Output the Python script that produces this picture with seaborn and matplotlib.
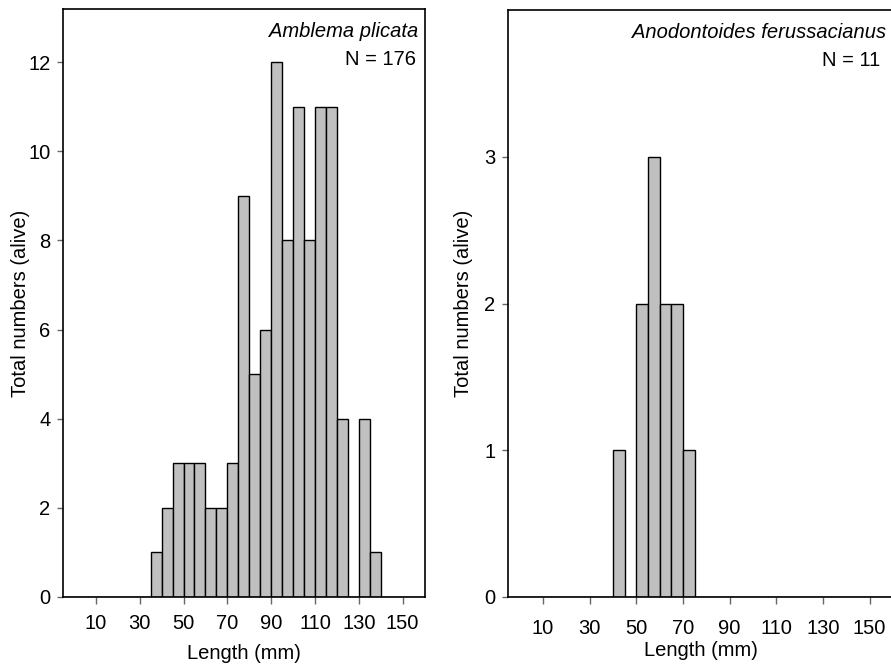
import pandas as pd
import matplotlib
matplotlib.use("Agg")
import matplotlib.pyplot as plt
import seaborn as sns

# Shell-length frequencies (5 mm classes, labelled by lower class bound)
amblema_length = [35, 40, 45, 50, 55, 60, 65, 70, 75, 80, 85, 90, 95, 100,
                  105, 110, 115, 120, 125, 130, 135]
amblema_count = [1, 2, 3, 3, 3, 2, 2, 3, 9, 5, 6, 12, 8, 11,
                 8, 11, 11, 4, 0, 4, 1]

anodontoides_length = [40, 45, 50, 55, 60, 65, 70]
anodontoides_count = [1, 0, 2, 3, 2, 2, 1]

x_ticks = [10, 30, 50, 70, 90, 110, 130, 150]
species = ["Amblema plicata", "Anodontoides ferussacianus"]
n_labels = ["N = 176", "N = 11"]

sns.set_theme(style="white")
plt.rcParams["font.family"] = ["Liberation Sans", "DejaVu Sans"]
plt.rcParams["text.color"] = "black"
plt.rcParams["axes.labelcolor"] = "black"
FS = 14.5

W, H = 891, 667
fig = plt.figure(figsize=(W / 100, H / 100), dpi=100)


def panel(rect, lengths, counts, ylim, yticks, name, ntext, name_x, n_x, ylab_x,
          xpad, xlabpad):
    ax = fig.add_axes(rect)
    df = pd.DataFrame({"length": [v + 2.5 for v in lengths], "count": counts})
    sns.histplot(data=df, x="length", weights="count", binwidth=5, binrange=(-5, 160),
                 ax=ax, color="#c0c0c0", edgecolor="black", linewidth=1.0, alpha=1.0)
    for p in ax.patches:
        p.set_facecolor("#c0c0c0")
    ax.set_xlim(-5, 160)
    ax.set_ylim(*ylim)
    ax.set_xticks(x_ticks)
    ax.set_yticks(yticks)
    ax.tick_params(axis="both", labelsize=FS, colors="#666666", width=1.0,
                   direction="out", labelcolor="black", bottom=True, left=True)
    ax.tick_params(axis="x", length=5, pad=xpad)
    ax.tick_params(axis="y", length=4, pad=5)
    for s in ["left", "top", "bottom", "right"]:
        ax.spines[s].set_color("black")
        ax.spines[s].set_linewidth(1.2)
    ax.set_xlabel("Length (mm)", fontsize=FS, labelpad=xlabpad)
    ax.set_ylabel("Total numbers (alive)", fontsize=FS)
    ax.yaxis.set_label_coords(ylab_x, 0.5)
    ax.text(name_x, 0.962, name, transform=ax.transAxes, ha="right", va="center",
            fontsize=FS, style="italic")
    ax.text(n_x, 0.914, ntext, transform=ax.transAxes, ha="right", va="center",
            fontsize=FS)
    ax.grid(False)
    return ax


# left panel
lx0, lx1, ly0, ly1 = 63, 424.5, 9, 597
panel([lx0 / W, (H - ly1) / H, (lx1 - lx0) / W, (ly1 - ly0) / H],
      amblema_length, amblema_count, (0, 13.19), [0, 2, 4, 6, 8, 10, 12],
      species[0], n_labels[0],
      (418 - lx0) / (lx1 - lx0), (416 - lx0) / (lx1 - lx0), (30 - lx0) / (lx1 - lx0),
      xpad=7, xlabpad=8)

# right panel
rx0, rx1, ry0, ry1 = 508, 893, 10, 597
panel([rx0 / W, (H - ry1) / H, (rx1 - rx0) / W, (ry1 - ry0) / H],
      anodontoides_length, anodontoides_count, (0, 4.0), [0, 1, 2, 3],
      species[1], n_labels[1],
      (886 - rx0) / (rx1 - rx0), (880 - rx0) / (rx1 - rx0), (473 - rx0) / (rx1 - rx0),
      xpad=11, xlabpad=2)

fig.savefig("out.png", dpi=100)
